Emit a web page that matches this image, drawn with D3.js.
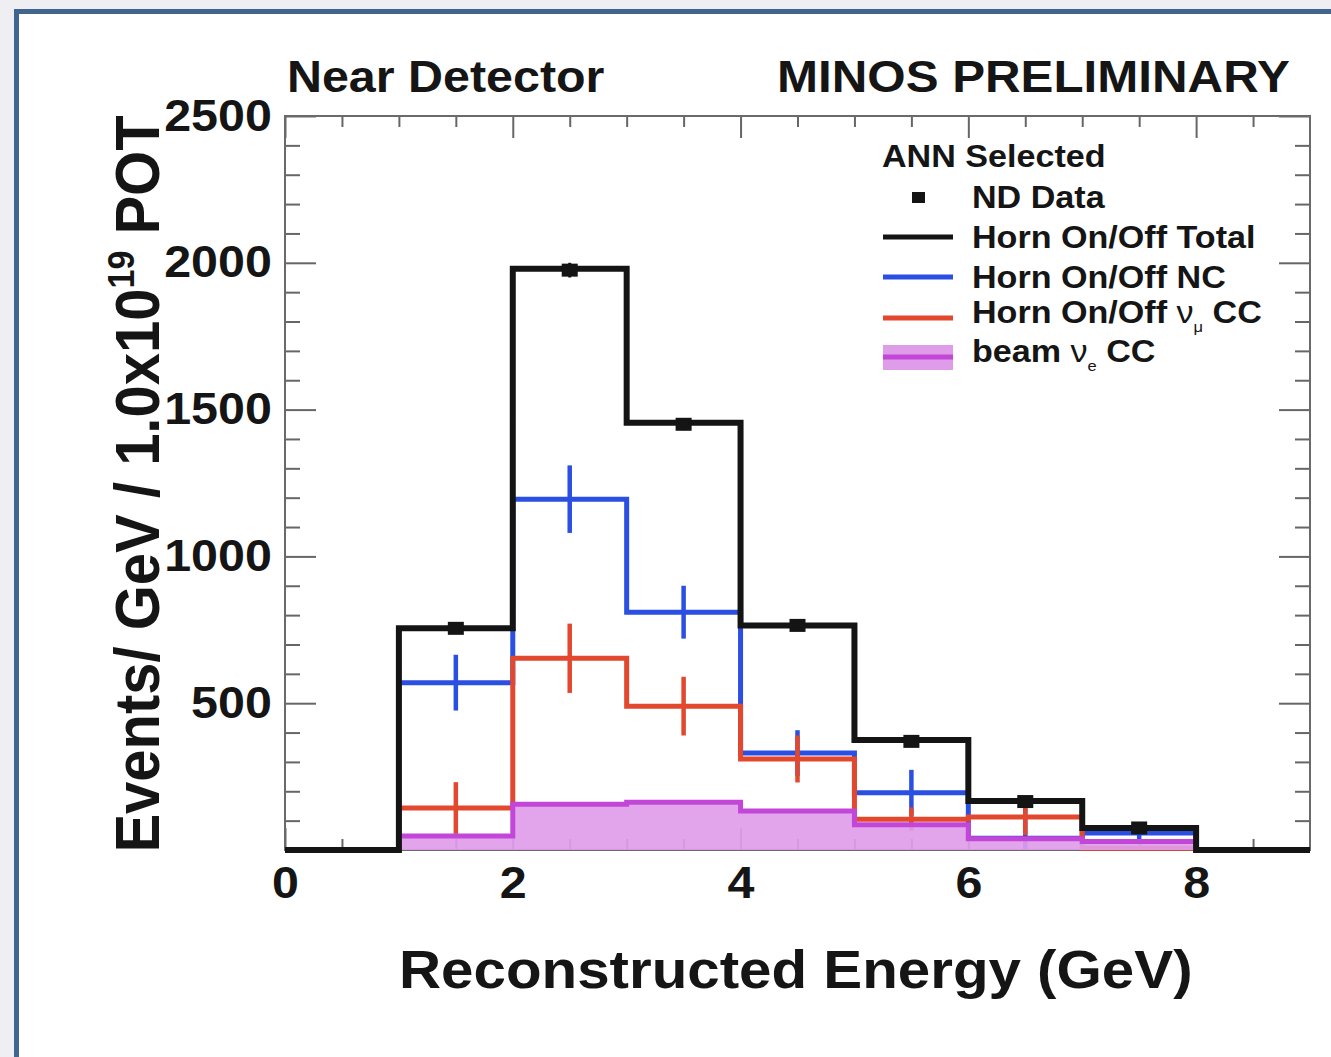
<!DOCTYPE html>
<html>
<head>
<meta charset="utf-8">
<script src="https://cdn.jsdelivr.net/npm/d3@7"></script>
<style>
  html, body { margin: 0; padding: 0; background: #efeef3; }
  svg { display: block; }
  text { font-family: "Liberation Sans", Arial, Helvetica, sans-serif; fill: #151515; }
</style>
</head>
<body>
<svg id="chart" width="1331" height="1057"></svg>
<script>
// ---- binning (GeV) ----
const binEdges = [0, 1, 2, 3, 4, 5, 6, 7, 8, 9];
const binCenters = [0.5, 1.5, 2.5, 3.5, 4.5, 5.5, 6.5, 7.5, 8.5];

// ---- histogram contents, events / GeV / 1e19 POT ----
const totalHist = [0, 755, 1980, 1455, 765, 375, 167, 75, 0];
const ncHist    = [0, 570, 1195, 810, 330, 195, 40, 58, 0];
const ncErr     = [0, 95, 115, 90, 78, 78, 130, 35, 0];
const numuHist  = [0, 143, 653, 490, 310, 105, 112, 6, 0];
const numuErr   = [0, 88, 118, 100, 80, 40, 61, 8, 0];
const beamHist  = [0, 48, 156, 163, 133, 86, 38, 29, 0];

// ---- ND data points ----
const dataX   = [1.5, 2.5, 3.5, 4.5, 5.5, 6.5, 7.5];
const dataY   = [755, 1975, 1450, 765, 370, 165, 75];
const dataErr = [15, 25, 20, 15, 10, 8, 6];

// ---- axis ticks ----
const xMajorTicks = [0, 2, 4, 6, 8];
const xMinorTicks = [0.5, 1, 1.5, 2.5, 3, 3.5, 4.5, 5, 5.5, 6.5, 7, 7.5, 8.5];
const yMajorTicks = [0, 500, 1000, 1500, 2000, 2500];
const yMinorTicks = d3.range(100, 2500, 100).filter(v => v % 500 !== 0);

// ---- legend entries ----
const legendHeader = "ANN Selected";
const legendItems = [
  { kind: "marker", label: ["ND Data"] },
  { kind: "line", color: "#141414", label: ["Horn On/Off Total"] },
  { kind: "line", color: "#2a4fe2", label: ["Horn On/Off NC"] },
  { kind: "line", color: "#e2482e", label: ["Horn On/Off ", "ν", "μ", " CC"] },
  { kind: "fill", label: ["beam ", "ν", "e", " CC"] }
];

const colors = { total: "#141414", nc: "#2a4fe2", numu: "#e2482e", beamLine: "#c247d8", beamFill: "#df9de9", frame: "#6a6a6a" };
const SX = 1.1; // horizontal text stretch of the figure

const svg = d3.select("#chart");
const W = 1331, H = 1057;

// page frame
svg.append("rect").attr("x", 0).attr("y", 0).attr("width", W).attr("height", H).attr("fill", "#efeef3");
svg.append("rect").attr("x", 17).attr("y", 12).attr("width", W - 17).attr("height", H - 12).attr("fill", "#ffffff");
svg.append("rect").attr("x", 14).attr("y", 9).attr("width", 5).attr("height", H - 9).attr("fill", "#41658e");
svg.append("rect").attr("x", 14).attr("y", 9).attr("width", W - 14).attr("height", 5).attr("fill", "#41658e");

const x = d3.scaleLinear().domain([0, 9]).range([285, 1310]);
const y = d3.scaleLinear().domain([0, 2500]).range([850, 116]);

function stretchedText(parent, px, py, size, anchor, sx) {
  return parent.append("text")
    .attr("transform", `translate(${px},${py}) scale(${sx || SX},1)`)
    .attr("font-size", size).attr("font-weight", "bold")
    .attr("text-anchor", anchor || "start");
}

// ---- axes ----
const axisG = svg.append("g");
function styleAxis(g) {
  g.select(".domain").remove();
  g.selectAll(".tick line").attr("stroke", "#666").attr("stroke-width", 2);
}
const bottomMajor = axisG.append("g").attr("transform", `translate(0,${y(0)})`)
  .call(d3.axisBottom(x).tickValues(xMajorTicks).tickSize(-22).tickPadding(17).tickFormat(d3.format("d")));
styleAxis(bottomMajor);
bottomMajor.selectAll(".tick text").attr("font-size", 44).attr("font-weight", "bold")
  .attr("font-family", "Liberation Sans, Arial, sans-serif").attr("fill", "#151515")
  .attr("transform", `scale(${SX},1)`);
styleAxis(axisG.append("g").attr("transform", `translate(0,${y(0)})`)
  .call(d3.axisBottom(x).tickValues(xMinorTicks).tickSize(-11).tickFormat("")));
styleAxis(axisG.append("g").attr("transform", `translate(0,${y(2500)})`)
  .call(d3.axisTop(x).tickValues(xMajorTicks).tickSize(-22).tickFormat("")));
styleAxis(axisG.append("g").attr("transform", `translate(0,${y(2500)})`)
  .call(d3.axisTop(x).tickValues(xMinorTicks).tickSize(-11).tickFormat("")));

const leftMajor = axisG.append("g").attr("transform", `translate(${x(0)},0)`)
  .call(d3.axisLeft(y).tickValues(yMajorTicks).tickSize(-31).tickPadding(12).tickFormat(d => d === 0 ? "" : d));
styleAxis(leftMajor);
leftMajor.selectAll(".tick text").attr("font-size", 44).attr("font-weight", "bold")
  .attr("font-family", "Liberation Sans, Arial, sans-serif").attr("fill", "#151515")
  .attr("transform", `scale(${SX},1)`);
styleAxis(axisG.append("g").attr("transform", `translate(${x(0)},0)`)
  .call(d3.axisLeft(y).tickValues(yMinorTicks).tickSize(-15).tickFormat("")));
styleAxis(axisG.append("g").attr("transform", `translate(${x(9)},0)`)
  .call(d3.axisRight(y).tickValues(yMajorTicks).tickSize(-31).tickFormat("")));
styleAxis(axisG.append("g").attr("transform", `translate(${x(9)},0)`)
  .call(d3.axisRight(y).tickValues(yMinorTicks).tickSize(-15).tickFormat("")));

// plot frame
svg.append("rect").attr("x", x(0)).attr("y", y(2500)).attr("width", x(9) - x(0)).attr("height", y(0) - y(2500))
  .attr("fill", "none").attr("stroke", colors.frame).attr("stroke-width", 2);

// ---- histograms ----
function stepPoints(vals) {
  const pts = vals.map((v, i) => [binEdges[i], v]);
  pts.push([binEdges[binEdges.length - 1], vals[vals.length - 1]]);
  return pts;
}
const stepLine = d3.line().x(d => x(d[0])).y(d => y(d[1])).curve(d3.curveStepAfter);
const stepArea = d3.area().x(d => x(d[0])).y0(y(0)).y1(d => y(d[1])).curve(d3.curveStepAfter);

const plot = svg.append("g");

function errorBars(vals, errs, color) {
  plot.append("g").selectAll("line")
    .data(vals.map((v, i) => ({ c: binCenters[i], v, e: errs[i] })).filter(d => d.e > 0))
    .join("line")
    .attr("x1", d => x(d.c)).attr("x2", d => x(d.c))
    .attr("y1", d => y(Math.max(0, d.v - d.e))).attr("y2", d => y(d.v + d.e))
    .attr("stroke", color).attr("stroke-width", 4.5);
}

// NC
plot.append("path").attr("d", stepLine(stepPoints(ncHist))).attr("fill", "none")
  .attr("stroke", colors.nc).attr("stroke-width", 5).attr("stroke-linejoin", "miter");
errorBars(ncHist, ncErr, colors.nc);

// numu CC
plot.append("path").attr("d", stepLine(stepPoints(numuHist))).attr("fill", "none")
  .attr("stroke", colors.numu).attr("stroke-width", 5).attr("stroke-linejoin", "miter");
errorBars(numuHist, numuErr, colors.numu);

// beam nue CC
plot.append("path").attr("d", stepArea(stepPoints(beamHist))).attr("fill", colors.beamFill).attr("opacity", 0.92);
plot.append("path").attr("d", stepLine(stepPoints(beamHist))).attr("fill", "none")
  .attr("stroke", colors.beamLine).attr("stroke-width", 5).attr("stroke-linejoin", "miter");

// total
plot.append("path").attr("d", stepLine(stepPoints(totalHist))).attr("fill", "none")
  .attr("stroke", colors.total).attr("stroke-width", 6).attr("stroke-linejoin", "miter");

// ND data
plot.append("g").selectAll("line").data(dataX.map((c, i) => ({ c, v: dataY[i], e: dataErr[i] })))
  .join("line")
  .attr("x1", d => x(d.c)).attr("x2", d => x(d.c))
  .attr("y1", d => y(d.v - d.e)).attr("y2", d => y(d.v + d.e))
  .attr("stroke", colors.total).attr("stroke-width", 3);
plot.append("g").selectAll("rect").data(dataX.map((c, i) => ({ c, v: dataY[i] })))
  .join("rect")
  .attr("x", d => x(d.c) - 8).attr("y", d => y(d.v) - 6.5)
  .attr("width", 16).attr("height", 13).attr("fill", colors.total);

// ---- titles ----
stretchedText(svg, 287, 92, 44).text("Near Detector");
stretchedText(svg, 777, 92, 44, "start", 1.12).text("MINOS PRELIMINARY");
stretchedText(svg, 399, 988, 53).text("Reconstructed Energy (GeV)");

const yTitle = svg.append("text")
  .attr("transform", `translate(159,484) scale(${SX},1) rotate(-90)`)
  .attr("font-size", 58).attr("font-weight", "bold").attr("text-anchor", "middle");
yTitle.append("tspan").text("Events/ GeV / 1.0x10");
yTitle.append("tspan").attr("font-size", 34).attr("dy", -23).text("19");
yTitle.append("tspan").attr("dy", 23).text(" POT");

// ---- legend ----
const leg = svg.append("g");
stretchedText(leg, 882, 167, 31).text(legendHeader);
const rowBase = [208, 248, 288, 323, 362];
const rowMid = [197.5, 237, 277, 318, 357];
legendItems.forEach((it, i) => {
  if (it.kind === "marker") {
    leg.append("rect").attr("x", 912).attr("y", rowMid[i] - 5.5).attr("width", 13).attr("height", 11).attr("fill", colors.total);
  } else if (it.kind === "line") {
    leg.append("line").attr("x1", 883).attr("x2", 953).attr("y1", rowMid[i]).attr("y2", rowMid[i])
      .attr("stroke", it.color).attr("stroke-width", 5);
  } else {
    leg.append("rect").attr("x", 883).attr("y", 345).attr("width", 70).attr("height", 25).attr("fill", colors.beamFill);
    leg.append("line").attr("x1", 883).attr("x2", 953).attr("y1", rowMid[i]).attr("y2", rowMid[i])
      .attr("stroke", colors.beamLine).attr("stroke-width", 5);
  }
  const t = stretchedText(leg, 972, rowBase[i], 31);
  if (it.label.length === 1) {
    t.text(it.label[0]);
  } else {
    t.append("tspan").text(it.label[0]);
    t.append("tspan").attr("font-weight", "normal").text(it.label[1]);
    t.append("tspan").attr("font-weight", "normal").attr("font-size", 15).attr("dy", 9).text(it.label[2]);
    t.append("tspan").attr("dy", -9).text(it.label[3]);
  }
});
</script>
</body>
</html>
